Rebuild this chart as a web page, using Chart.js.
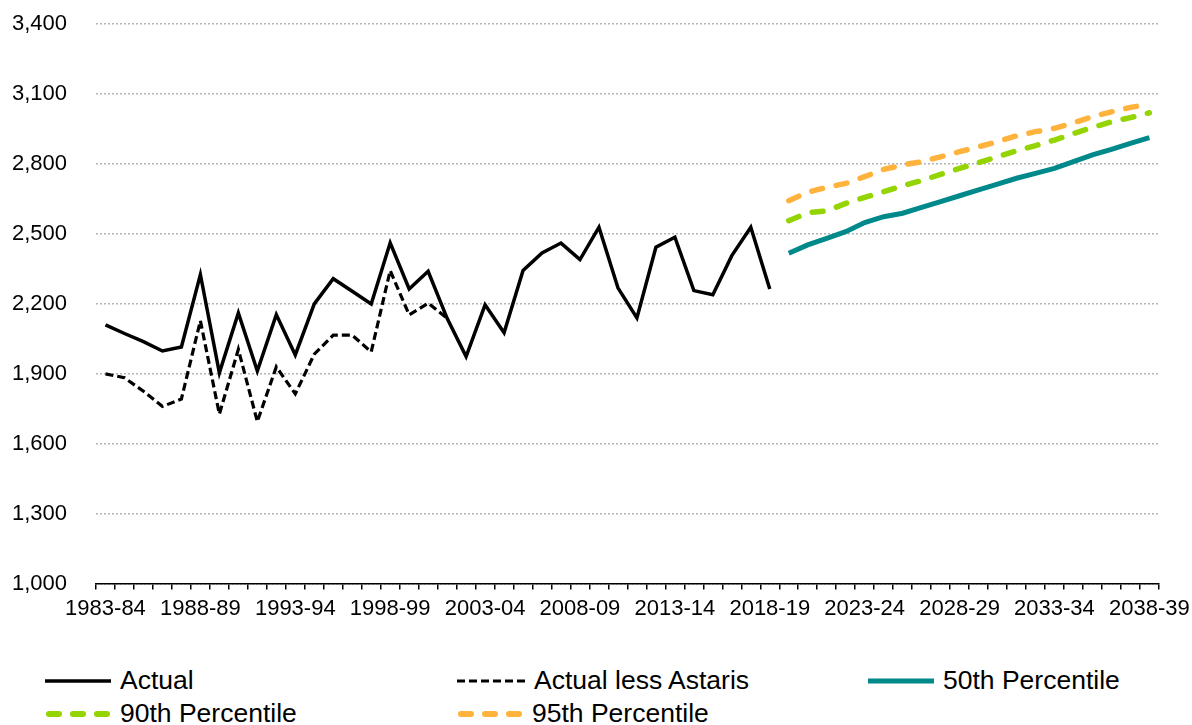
<!DOCTYPE html>
<html>
<head>
<meta charset="utf-8">
<script src="https://cdn.jsdelivr.net/npm/chart.js@4/dist/chart.umd.min.js"></script>
<style>
  body { margin: 0; background: #fff; font-family: "Liberation Sans", Arial, sans-serif; }
  #wrap { position: relative; width: 1192px; height: 725px; overflow: hidden; }
  #chartBox { position: absolute; left: 0; top: -18px; width: 1196px; height: 665px; }
  .leg { position: absolute; display: flex; align-items: center; font-size: 26.5px; color: #000; white-space: nowrap; }
  .leg svg { margin-right: 9px; }
</style>
</head>
<body>
<div id="wrap">
  <div id="chartBox"><canvas id="chart"></canvas></div>
  <div class="leg" style="left:45px; top:665px;">
    <svg width="66" height="10"><line x1="0" y1="5" x2="66" y2="5" stroke="#000" stroke-width="3.5"/></svg>Actual
  </div>
  <div class="leg" style="left:457px; top:665px;">
    <svg width="68" height="10"><line x1="0" y1="5" x2="68" y2="5" stroke="#000" stroke-width="3" stroke-dasharray="8 4"/></svg>Actual less Astaris
  </div>
  <div class="leg" style="left:868px; top:665px;">
    <svg width="66" height="10"><line x1="0" y1="5" x2="66" y2="5" stroke="#00898a" stroke-width="5"/></svg>50th Percentile
  </div>
  <div class="leg" style="left:45px; top:698px;">
    <svg width="66" height="10"><line x1="4" y1="5" x2="66" y2="5" stroke="#94d400" stroke-width="6" stroke-linecap="round" stroke-dasharray="10 14"/></svg>90th Percentile
  </div>
  <div class="leg" style="left:457px; top:698px;">
    <svg width="66" height="10"><line x1="4" y1="5" x2="66" y2="5" stroke="#ffb23c" stroke-width="6" stroke-linecap="round" stroke-dasharray="10 14"/></svg>95th Percentile
  </div>
</div>
<script>
const categories = [
  "1983-84", "1984-85", "1985-86", "1986-87", "1987-88", "1988-89", "1989-90", "1990-91",
  "1991-92", "1992-93", "1993-94", "1994-95", "1995-96", "1996-97", "1997-98", "1998-99",
  "1999-00", "2000-01", "2001-02", "2002-03", "2003-04", "2004-05", "2005-06", "2006-07",
  "2007-08", "2008-09", "2009-10", "2010-11", "2011-12", "2012-13", "2013-14", "2014-15",
  "2015-16", "2016-17", "2017-18", "2018-19", "2019-20", "2020-21", "2021-22", "2022-23",
  "2023-24", "2024-25", "2025-26", "2026-27", "2027-28", "2028-29", "2029-30", "2030-31",
  "2031-32", "2032-33", "2033-34", "2034-35", "2035-36", "2036-37", "2037-38", "2038-39"
];

const actual = [
  2110, 2073, 2038, 1998, 2015, 2326, 1904, 2161, 1912, 2154, 1981, 2200,
  2308, 2254, 2200, 2462, 2264, 2340, 2138, 1974, 2196, 2076, 2343, 2419,
  2461, 2390, 2529, 2269, 2140, 2443, 2486, 2257, 2239, 2407, 2529, 2264
];

const actualLessAstaris = [
  1900, 1883, 1825, 1760, 1792, 2128, 1727, 2005, 1695, 1930, 1814, 1984,
  2066, 2066, 1994, 2343, 2153, 2203, 2138
];

const p50 = [
  2417, 2453, 2481, 2510, 2549, 2574, 2589, 2614, 2639, 2664,
  2689, 2714, 2739, 2760, 2781, 2810, 2839, 2863, 2889, 2913
];
const p90 = [
  2557, 2591, 2599, 2631, 2657, 2681, 2707, 2729, 2756, 2781,
  2806, 2831, 2857, 2879, 2903, 2931, 2957, 2981, 2999, 3020
];
const p95 = [
  2643, 2679, 2700, 2717, 2746, 2777, 2796, 2810, 2831, 2853,
  2874, 2896, 2921, 2939, 2953, 2977, 3003, 3024, 3043, 3057
];

const yTicks = [1000, 1300, 1600, 1900, 2200, 2500, 2800, 3100, 3400];

const projStart = categories.indexOf("2019-20");

function fullLength(values, start) {
  const out = new Array(categories.length).fill(null);
  values.forEach((v, i) => { out[start + i] = v; });
  return out;
}

const tickFont = { family: "'Liberation Sans', Arial, sans-serif", size: 22 };

const ctx = document.getElementById("chart").getContext("2d");

new Chart(ctx, {
  type: "line",
  data: {
    labels: categories,
    datasets: [
      {
        label: "Actual",
        data: fullLength(actual, 0),
        borderColor: "#000",
        borderWidth: 3.5,
        pointRadius: 0
      },
      {
        label: "Actual less Astaris",
        data: fullLength(actualLessAstaris, 0),
        borderColor: "#000",
        borderWidth: 3.2,
        borderDash: [8, 4],
        pointRadius: 0
      },
      {
        label: "50th Percentile",
        data: fullLength(p50, projStart),
        borderColor: "#00898a",
        borderWidth: 5,
        pointRadius: 0
      },
      {
        label: "90th Percentile",
        data: fullLength(p90, projStart),
        borderColor: "#94d400",
        borderWidth: 5.5,
        borderDash: [11, 14],
        borderCapStyle: "round",
        pointRadius: 0
      },
      {
        label: "95th Percentile",
        data: fullLength(p95, projStart),
        borderColor: "#ffb23c",
        borderWidth: 5.5,
        borderDash: [11, 14],
        borderCapStyle: "round",
        pointRadius: 0
      }
    ]
  },
  options: {
    responsive: true,
    maintainAspectRatio: false,
    animation: false,
    layout: { padding: { top: 0, right: 29, left: 0, bottom: 19 } },
    plugins: {
      legend: { display: false },
      tooltip: { enabled: false }
    },
    scales: {
      x: {
        offset: true,
        grid: {
          display: true,
          offset: true,
          drawOnChartArea: false,
          drawTicks: true,
          tickLength: 6,
          color: "#000",
          lineWidth: 1.5
        },
        border: { display: true, color: "#000", width: 1.5 },
        ticks: {
          autoSkip: false,
          maxRotation: 0,
          minRotation: 0,
          color: "#000",
          padding: 6,
          font: tickFont,
          callback: function (value, index) {
            return index % 5 === 0 ? categories[index] : "";
          }
        }
      },
      y: {
        min: yTicks[0],
        max: yTicks[yTicks.length - 1],
        afterBuildTicks: (scale) => {
          scale.ticks = yTicks.map(v => ({ value: v }));
        },
        afterFit: (scale) => { scale.width = 96; },
        grid: {
          color: "#b3b3b3",
          lineWidth: 1.5,
          drawTicks: false
        },
        border: { display: false, dash: [2, 2] },
        ticks: {
          color: "#000",
          padding: 29,
          font: tickFont,
          callback: (value) => value.toLocaleString("en-US")
        }
      }
    }
  }
});
</script>
</body>
</html>
